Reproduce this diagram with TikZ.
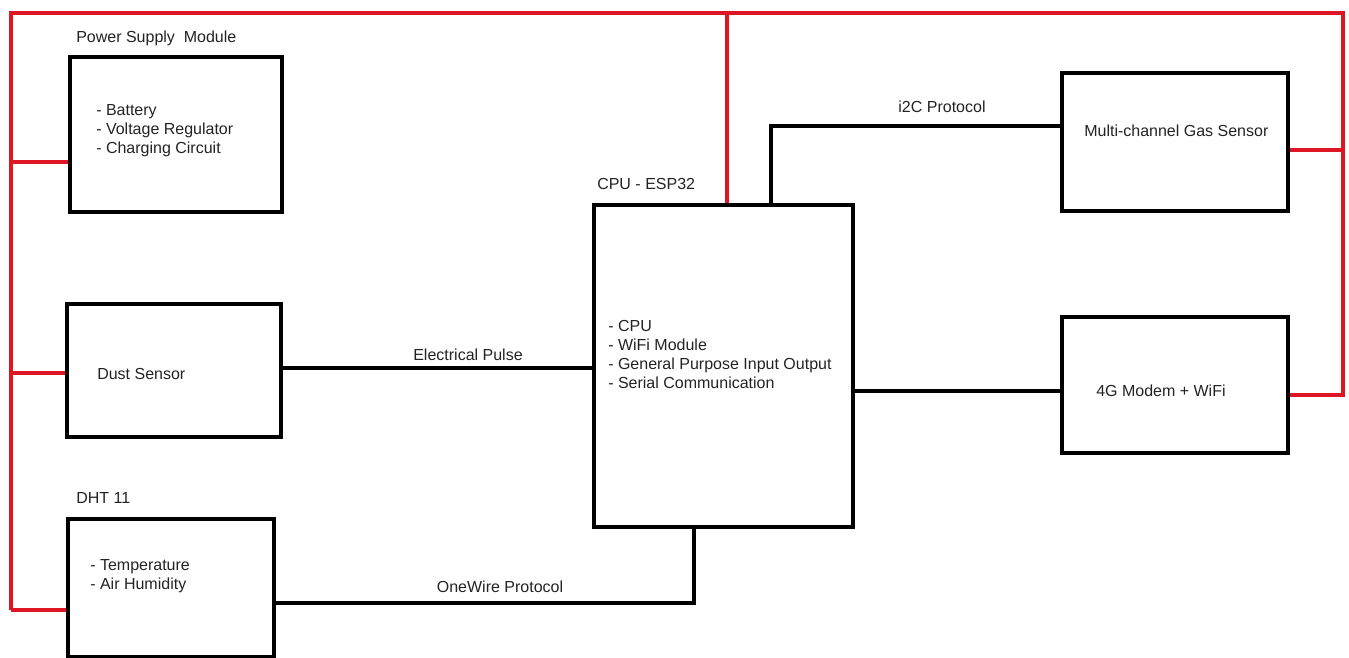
\documentclass[tikz,border=0pt]{standalone}
\usepackage{fontspec}
\setmainfont{Liberation Sans}
\definecolor{pwr}{RGB}{222,22,36}
\definecolor{txt}{RGB}{35,35,35}
\begin{document}
\begin{tikzpicture}[x=0.75pt,y=-0.75pt,
  box/.style={draw=black,line width=3pt,inner sep=0pt,outer sep=0pt,anchor=north west},
  wire/.style={draw=black,line width=3pt},
  power/.style={draw=pwr,line width=2.4pt,line join=miter},
  lbl/.style={inner sep=0pt,text=txt,font=\fontsize{12pt}{14.25pt}\selectfont},
  lst/.style={lbl,align=left,anchor=north west}]
\useasboundingbox (0,0) rectangle (1349,657);
% power coordinates
\coordinate (tl) at (11,13);
\coordinate (tr) at (1343,13);
\coordinate (bl) at (11,610);
\coordinate (tm) at (727,13);
% boxes
\node[box,minimum width=159pt,minimum height=116.25pt] (psu) at (70,57) {};
\node[box,minimum width=160.5pt,minimum height=99.75pt] (dust) at (67,304) {};
\node[box,minimum width=154.5pt,minimum height=103.5pt] (dht) at (68,519) {};
\node[box,minimum width=194.25pt,minimum height=241.5pt] (cpu) at (594,205) {};
\node[box,minimum width=169.5pt,minimum height=103.5pt] (gas) at (1062,73) {};
\node[box,minimum width=169.5pt,minimum height=102pt] (modem) at (1062,317) {};
% power wiring
\draw[power] (bl) -- (tl) -- (tr) |- (modem.east |- 0,395);
\draw[power] (tl |- 0,162) -- (psu.west |- 0,162);
\draw[power] (tl |- 0,373) -- (dust.west |- 0,373);
\draw[power] (bl) -- (dht.west |- bl);
\draw[power] (tr |- 0,150) -- (gas.east |- 0,150);
\draw[power] (tm) -- (cpu.north -| tm);
% signal wiring
\draw[wire] (dust.east |- 0,368) -- (cpu.west |- 0,368);
\draw[wire] (dht.east |- 0,603) -| (cpu.south -| 694,0);
\draw[wire] (cpu.north -| 771,0) |- (gas.west |- 0,126);
\draw[wire] (cpu.east |- 0,391) -- (modem.west |- 0,391);
% redraw boxes on top
\foreach \b in {psu,dust,dht,cpu,gas,modem}{\draw[line width=3pt] (\b.north west) rectangle (\b.south east);}
% labels
\node[lbl,anchor=base west] (psut) at (76,42) {Power Supply\ \ Module};
\node[lst] (psul) at (96,104) {- Battery\\- Voltage Regulator\\- Charging Circuit};
\node[lbl,anchor=base west] (dustt) at (97,379) {Dust Sensor};
\node[lbl,anchor=base west] (dhtt) at (76,503) {DHT 11};
\node[lst] (dhtl) at (90,559) {- Temperature\\- Air Humidity};
\node[lbl,anchor=base west] (cput) at (597,189) {CPU - ESP32};
\node[lst] (cpul) at (608,320) {- CPU\\- WiFi Module\\- General Purpose Input Output\\- Serial Communication};
\node[lbl,anchor=base west] (gast) at (1084,136) {Multi-channel Gas Sensor};
\node[lbl,anchor=base west] (modemt) at (1096,396) {4G Modem + WiFi};
\node[lbl,anchor=base] (ep) at (468,360) {Electrical Pulse};
\node[lbl,anchor=base] (ow) at (500,592) {OneWire Protocol};
\node[lbl,anchor=base] (i2c) at (942,112) {i2C Protocol};
\end{tikzpicture}
\end{document}
